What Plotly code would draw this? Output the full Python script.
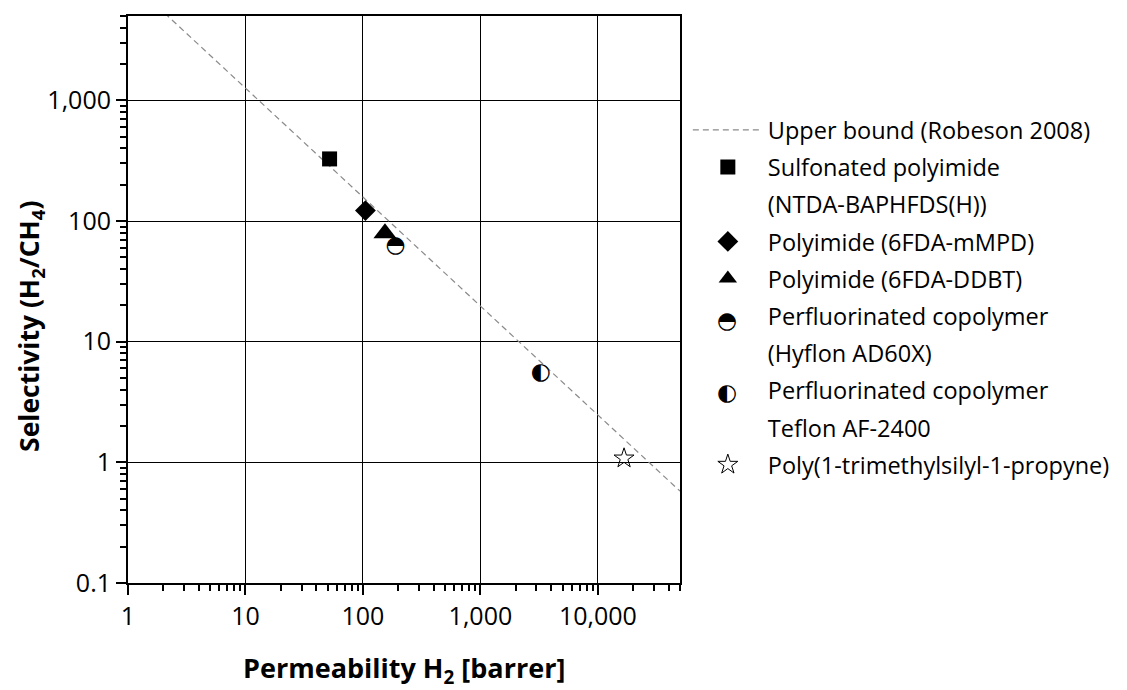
import plotly.graph_objects as go

# ---------------- data ----------------
UB_X = [1, 50000]            # Robeson 2008 upper bound, end points
UB_Y = [10100, 0.577]

SPI_X, SPI_Y = [52], [327]          # Sulfonated polyimide (NTDA-BAPHFDS(H))
MMPD_X, MMPD_Y = [105], [122]       # Polyimide (6FDA-mMPD)
DDBT_X, DDBT_Y = [154], [79]        # Polyimide (6FDA-DDBT)
HYF_X, HYF_Y = [189], [62]          # Hyflon AD60X
TEF_X, TEF_Y = [3270], [5.5]        # Teflon AF-2400
PTMSP_X, PTMSP_Y = [16700], [1.08]  # PTMSP

X_TICKVALS = [1, 10, 100, 1000, 10000]
X_TICKTEXT = ["1", "10", "100", "1,000", "10,000"]
Y_TICKVALS = [0.1, 1, 10, 100, 1000]
Y_TICKTEXT = ["0.1", "1", "10", "100", "1,000"]
X_RANGE = [1, 50000]
Y_RANGE = [0.1, 5000]

LEGEND_NAMES = [
    "Upper bound (Robeson 2008)",
    "Sulfonated polyimide",
    "(NTDA-BAPHFDS(H))",
    "Polyimide (6FDA-mMPD)",
    "Polyimide (6FDA-DDBT)",
    "Perfluorinated copolymer",
    "(Hyflon AD60X)",
    "Perfluorinated copolymer",
    "Teflon AF-2400",
    "Poly(1-trimethylsilyl-1-propyne)",
]

# ---------------- layout geometry ----------------
W, H = 1127, 690
ML, MR, MT, MB = 128, 436, 16, 107
PW, PH = W - ML - MR, H - MT - MB


def px_x(p):
    return (p - ML) / PW


def px_y(p):
    return (H - MB - p) / PH


FONT = "Open Sans"
GLYPH_FONT = dict(family="DejaVu Sans", size=23, color="black")
fig = go.Figure()

blank = dict(color="rgba(0,0,0,0)", size=1)

# upper bound
fig.add_trace(go.Scatter(x=UB_X, y=UB_Y, mode="lines", name=LEGEND_NAMES[0],
                         line=dict(color="#8a8a8a", width=1.2, dash="6px,4px"),
                         legendgroup="g0"))
fig.add_trace(go.Scatter(x=SPI_X, y=SPI_Y, mode="markers", name=LEGEND_NAMES[1],
                         marker=dict(symbol="square", size=15, color="black"),
                         legendgroup="g1"))
fig.add_trace(go.Scatter(x=[None], y=[None], mode="markers", name=LEGEND_NAMES[2],
                         marker=blank, legendgroup="g2"))
fig.add_trace(go.Scatter(x=MMPD_X, y=MMPD_Y, mode="markers", name=LEGEND_NAMES[3],
                         marker=dict(symbol="diamond", size=16, color="black"),
                         legendgroup="g3"))
fig.add_trace(go.Scatter(x=DDBT_X, y=DDBT_Y, mode="markers", name=LEGEND_NAMES[4],
                         marker=dict(symbol="triangle-up", size=20, color="black"),
                         legendgroup="g4"))
# half-filled circles: drawn as glyphs
fig.add_trace(go.Scatter(x=HYF_X, y=HYF_Y, mode="text", text=["\u25D3"],
                         textposition="middle center", textfont=GLYPH_FONT,
                         showlegend=False))
fig.add_trace(go.Scatter(x=[None], y=[None], mode="markers", name=LEGEND_NAMES[5],
                         marker=blank, legendgroup="g5"))
fig.add_trace(go.Scatter(x=[None], y=[None], mode="markers", name=LEGEND_NAMES[6],
                         marker=blank, legendgroup="g6"))
fig.add_trace(go.Scatter(x=TEF_X, y=TEF_Y, mode="text", text=["\u25D0"],
                         textposition="middle center", textfont=GLYPH_FONT,
                         showlegend=False))
fig.add_trace(go.Scatter(x=[None], y=[None], mode="markers", name=LEGEND_NAMES[7],
                         marker=blank, legendgroup="g7"))
fig.add_trace(go.Scatter(x=[None], y=[None], mode="markers", name=LEGEND_NAMES[8],
                         marker=blank, legendgroup="g8"))
fig.add_trace(go.Scatter(x=PTMSP_X, y=PTMSP_Y, mode="markers", name=LEGEND_NAMES[9],
                         marker=dict(symbol="star-open", size=15, color="black",
                                     line=dict(width=1, color="black")),
                         legendgroup="g9"))

minor_x = [m * 10 ** d for d in range(0, 5) for m in range(2, 10)]
minor_y = [m * 10 ** d for d in range(-1, 4) for m in range(2, 10)]

axis_common = dict(
    type="log",
    showline=True, linecolor="black", linewidth=2, mirror=True,
    showgrid=True, gridcolor="black", gridwidth=1,
    ticks="outside", ticklen=10, tickwidth=1.5, tickcolor="black",
    tickfont=dict(family=FONT, size=25, color="black"),
    zeroline=False,
)

fig.update_xaxes(
    **axis_common,
    range=[0, 4.69897],
    tickmode="array", tickvals=X_TICKVALS, ticktext=X_TICKTEXT,
    minor=dict(tickmode="array", tickvals=minor_x, ticks="outside",
               ticklen=6, tickwidth=1.5, tickcolor="black", showgrid=False),
)
fig.update_yaxes(
    **axis_common,
    range=[-1, 3.69897],
    tickmode="array", tickvals=Y_TICKVALS, ticktext=Y_TICKTEXT,
    minor=dict(tickmode="array", tickvals=minor_y, ticks="outside",
               ticklen=6, tickwidth=1.5, tickcolor="black", showgrid=False),
)

annotations = [
    dict(text="<b>Permeability H<sub>2</sub> [barrer]</b>", xref="paper", yref="paper",
         x=0.5, y=px_y(669), xanchor="center", yanchor="middle", showarrow=False,
         font=dict(family=FONT, size=27, color="black")),
    dict(text="<b>Selectivity (H<sub>2</sub>/CH<sub>4</sub>)</b>", xref="paper", yref="paper",
         x=px_x(28), y=px_y(326), xanchor="center", yanchor="middle", showarrow=False,
         textangle=-90, font=dict(family=FONT, size=26.5, color="black")),
    # legend glyphs for the half-filled circle entries
    dict(text="\u25D3", xref="paper", yref="paper", x=px_x(739), y=px_y(320),
         xanchor="center", yanchor="middle", showarrow=False, font=GLYPH_FONT),
    dict(text="\u25D0", xref="paper", yref="paper", x=px_x(739), y=px_y(392),
         xanchor="center", yanchor="middle", showarrow=False, font=GLYPH_FONT),
]

fig.update_layout(
    width=W, height=H,
    margin=dict(l=ML, r=MR, t=MT, b=MB, pad=0),
    paper_bgcolor="white", plot_bgcolor="white",
    font=dict(family=FONT, color="black"),
    showlegend=True,
    legend=dict(x=px_x(699), y=px_y(108), xanchor="left", yanchor="top",
                font=dict(family=FONT, size=23.5, color="black"),
                itemwidth=70, traceorder="grouped", tracegroupgap=3.65,
                bgcolor="rgba(0,0,0,0)", borderwidth=0, valign="middle",
                itemclick=False, itemdoubleclick=False),
    annotations=annotations,
)

fig.write_html("out.html")
